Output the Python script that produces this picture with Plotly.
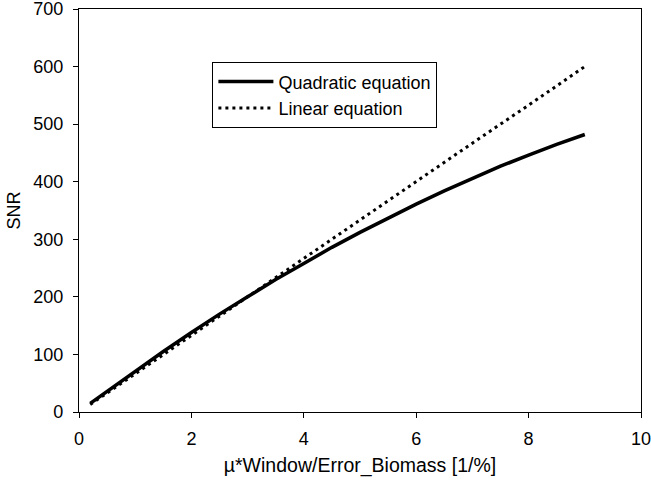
import plotly.graph_objects as go

# values
x_quad = [0.2, 0.5, 1, 1.5, 2, 2.5, 3, 3.5, 4, 4.5, 5, 5.5, 6, 6.5, 7, 7.5, 8, 8.5, 9]
snr_quad = [15, 36, 71, 105, 138, 170, 200, 230, 258, 286, 312, 337, 361, 384, 406, 427, 446, 465, 482]

x_lin = [0.2, 1, 2, 3, 4, 5, 6, 7, 8, 9]
snr_lin = [13, 67, 133, 200, 267, 333, 400, 467, 533, 600]

x_ticks = [0, 2, 4, 6, 8, 10]
y_ticks = [0, 100, 200, 300, 400, 500, 600, 700]

FONT = "Liberation Sans, Arial, sans-serif"
INK = "#000000"

fig = go.Figure()
fig.add_trace(go.Scatter(
    x=x_quad, y=snr_quad, mode="lines", name="Quadratic equation",
    line=dict(color=INK, width=3.5),
))
fig.add_trace(go.Scatter(
    x=x_lin, y=snr_lin, mode="lines", name="Linear equation",
    line=dict(color=INK, width=3, dash="3px,4px"),
))

axis = dict(
    showline=True, linecolor=INK, linewidth=1.2, mirror=True,
    ticks="outside", ticklen=5, tickwidth=1, tickcolor=INK,
    showgrid=False, zeroline=False, automargin=False,
    ticklabeloverflow="allow",
    tickfont=dict(size=18, color=INK),
)

fig.update_layout(
    width=651, height=484,
    margin=dict(l=79, r=10, t=9, b=72),
    plot_bgcolor="white", paper_bgcolor="white",
    font=dict(family=FONT, color=INK, size=18),
    showlegend=True,
    legend=dict(
        x=0.237, y=0.868, xanchor="left", yanchor="top",
        bgcolor="white", bordercolor=INK, borderwidth=1.2,
        font=dict(size=18, color=INK),
        tracegroupgap=0, itemwidth=55,
    ),
)
fig.update_xaxes(**axis, range=[0, 10], tickvals=x_ticks, ticklabelstandoff=5,
                 title=dict(text="µ*Window/Error_Biomass [1/%]", font=dict(size=19.5), standoff=10))
fig.update_yaxes(**axis, range=[0, 700], tickvals=y_ticks, ticklabelstandoff=6,
                 title=dict(text="SNR", font=dict(size=18), standoff=7))

# drop the page's default body margin so the figure sits at the window corner
fig.write_html("out.html", config={"displayModeBar": False},
               post_script="document.body.style.margin='0';")
